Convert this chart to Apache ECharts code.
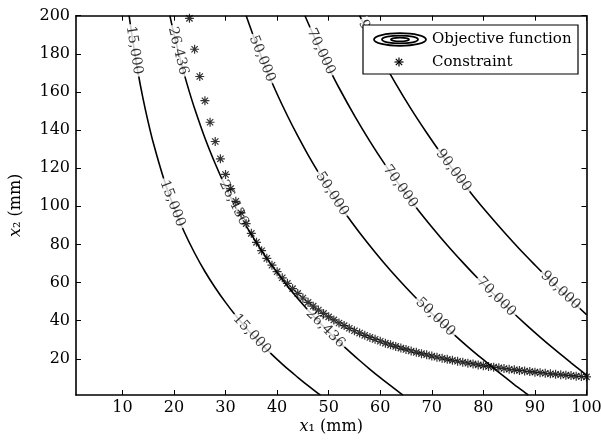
<!DOCTYPE html>
<html>
<head>
<meta charset="utf-8">
<script src="https://cdn.jsdelivr.net/npm/echarts@6/dist/echarts.min.js"></script>
<style>
    html, body { margin: 0; padding: 0; background: #fff; }
    #chart { width: 601px; height: 445px; }
</style>
</head>
<body>
<div id="chart"></div>
<script>
const xTicks = [10, 20, 30, 40, 50, 60, 70, 80, 90, 100];
const yTicks = [20, 40, 60, 80, 100, 120, 140, 160, 180, 200];

// contour lines of the objective function, [x1, x2]
const contour15000 = [[11.3, 200], [12, 186.9], [13, 170.6], [14, 156.5], [15, 144.2], [16, 133.2],
    [18, 114.6], [20, 99.4], [22, 86.5], [24, 75.5], [26, 65.8], [28, 57.3], [30, 49.6], [32, 42.6],
    [34, 36.2], [36, 30.3], [38, 24.8], [40, 19.7], [42, 14.8], [44, 10.3], [46, 5.9], [48, 1.7], [48.4, 1]];
const contour26436 = [[19.2, 200], [20, 190.4], [21, 179.4], [22, 169.2], [23, 159.9], [24, 151.3],
    [26, 135.8], [28, 122.3], [30, 110.2], [32, 99.5], [34, 89.7], [36, 80.9], [38, 72.7], [40, 65.2],
    [42, 58.2], [44, 51.6], [46, 45.5], [48, 39.7], [50, 34.1], [52, 28.9], [54, 23.9], [56, 19.1],
    [58, 14.5], [60, 10.1], [62, 5.9], [64, 1.7], [64.4, 1]];
const contour50000 = [[34.0, 200], [36, 185.0], [38, 171.4], [40, 158.9], [42, 147.5], [44, 136.9],
    [46, 127.0], [48, 117.8], [50, 109.2], [53, 97.1], [56, 86.1], [59, 75.9], [62, 66.3], [65, 57.4],
    [68, 49.0], [71, 41.1], [74, 33.5], [77, 26.3], [80, 19.5], [83, 12.9], [86, 6.5], [88, 2.4], [88.7, 1]];
const contour70000 = [[45.4, 200], [48, 184.1], [50, 172.8], [52, 162.2], [55, 147.6], [58, 134.1],
    [61, 121.6], [64, 110.1], [67, 99.3], [70, 89.2], [73, 79.6], [76, 70.6], [79, 62.0], [82, 53.9],
    [85, 46.1], [88, 38.6], [91, 31.4], [94, 24.5], [97, 17.9], [100, 11.4]];
const contour90000 = [[56.0, 200], [58, 189.0], [60, 178.7], [63, 164.4], [66, 151.0], [69, 138.6],
    [72, 126.9], [75, 116.0], [78, 105.6], [81, 95.8], [84, 86.5], [87, 77.6], [90, 69.2], [93, 61.0],
    [96, 53.2], [100, 43.2]];
const contours = [contour15000, contour26436, contour50000, contour70000, contour90000];

// constraint points (asterisks)
const constraintX1 = [23, 24, 25, 26, 27, 28, 29, 30, 31, 32, 33, 34, 35, 36, 37, 38, 39, 40, 41, 42,
    43, 44, 45, 46, 47, 48, 49, 50, 51, 52, 53, 54, 55, 56, 57, 58, 59, 60, 61, 62, 63, 64, 65, 66, 67,
    68, 69, 70, 71, 72, 73, 74, 75, 76, 77, 78, 79, 80, 81, 82, 83, 84, 85, 86, 87, 88, 89, 90, 91, 92,
    93, 94, 95, 96, 97, 98, 99, 100];
const constraintX2 = [198.6, 182.4, 168.1, 155.4, 144.1, 134.0, 124.9, 116.7, 109.3, 102.6, 96.5, 90.9,
    85.8, 81.1, 76.7, 72.7, 69.1, 65.7, 62.5, 59.6, 56.8, 54.3, 51.9, 49.6, 47.6, 45.6, 43.8, 42.0, 40.4,
    38.8, 37.4, 36.0, 34.7, 33.5, 32.3, 31.2, 30.2, 29.2, 28.2, 27.3, 26.5, 25.6, 24.9, 24.1, 23.4, 22.7,
    22.1, 21.4, 20.8, 20.3, 19.7, 19.2, 18.7, 18.2, 17.7, 17.3, 16.8, 16.4, 16.0, 15.6, 15.3, 14.9, 14.5,
    14.2, 13.9, 13.6, 13.3, 13.0, 12.7, 12.4, 12.1, 11.9, 11.6, 11.4, 11.2, 10.9, 10.7, 10.5];

// contour labels: x1, x2, text, angle
const contourLabels = [
    [12.3, 181.8, "15,000", -81], [19.7, 101.5, "15,000", -69], [35.1, 32.9, "15,000", -47],
    [20.8, 181.5, "26,436", -76], [31.55, 101.8, "26,436", -63], [49.35, 35.9, "26,436", -45],
    [37.1, 177.4, "50,000", -68], [50.65, 106.5, "50,000", -57], [70.7, 41.9, "50,000", -44],
    [48.5, 181.2, "70,000", -65], [63.9, 110.4, "70,000", -54], [82.5, 52.5, "70,000", -45],
    [58.6, 185.8, "90,000", -63], [74.2, 118.8, "90,000", -53], [94.95, 55.9, "90,000", -44],
];

const FONT = "DejaVu Serif";
const asteriskPath = "path://M5,0L5,10M0,5L10,5M1.5,1.5L8.5,8.5M8.5,1.5L1.5,8.5";

function boxAxis(min, max, ticks, pos, withLabels) {
    return {
        type: "value",
        position: pos,
        min,
        max,
        axisLine: { show: true, onZero: false, lineStyle: { color: "#000", width: 1.6 } },
        axisTick: { show: true, inside: true, length: 5, customValues: ticks, lineStyle: { color: "#000", width: 1 } },
        axisLabel: {
            show: withLabels,
            customValues: ticks,
            color: "#000",
            fontFamily: FONT,
            fontSize: 16,
            margin: pos === "left" ? 6 : 5,
        },
        splitLine: { show: false },
    };
}

let chartDom = document.getElementById("chart");
let myChart = echarts.init(chartDom);

let series = [];
for (let i = 0; i < contours.length; i++) {
    series.push({
        type: "line",
        name: "Objective function",
        data: contours[i],
        showSymbol: false,
        smooth: 0.3,
        clip: true,
        silent: true,
        z: 2,
        lineStyle: { color: "#000", width: 1.6 },
    });
}

series.push({
    type: "scatter",
    name: "labels",
    symbolSize: 0,
    silent: true,
    z: 3,
    data: contourLabels.map((l) => ({
        value: [l[0], l[1]],
        label: { formatter: l[2], rotate: l[3] },
    })),
    label: {
        show: true,
        position: "inside",
        color: "#000",
        fontFamily: FONT,
        fontSize: 14,
        backgroundColor: "#fff",
        padding: [0, 2],
    },
});

series.push({
    type: "scatter",
    name: "Constraint",
    symbol: asteriskPath,
    symbolSize: 9,
    z: 4,
    silent: true,
    data: constraintX1.map((x, i) => [x, constraintX2[i]]),
    itemStyle: { color: "rgba(0,0,0,0)", borderColor: "#000", borderWidth: 1.2 },
});

// legend box drawn by hand (ellipse icon is not a stock legend icon)
const LZ = 1000;
const legendItems = [
    { type: "rect", z: LZ, shape: { x: 363, y: 25, width: 215, height: 49 },
      style: { fill: "#fff", stroke: "#000", lineWidth: 1.2 } },
    { type: "ellipse", z: LZ, shape: { cx: 400, cy: 39.5, rx: 26, ry: 6.3 },
      style: { fill: "none", stroke: "#000", lineWidth: 1.8 } },
    { type: "ellipse", z: LZ, shape: { cx: 400, cy: 39.5, rx: 18, ry: 3.9 },
      style: { fill: "none", stroke: "#000", lineWidth: 1.8 } },
    { type: "ellipse", z: LZ, shape: { cx: 400, cy: 39.5, rx: 9, ry: 1.8 },
      style: { fill: "none", stroke: "#000", lineWidth: 1.8 } },
    { type: "text", z: LZ, x: 432, y: 39.5,
      style: { text: "Objective function", fill: "#000", font: "15px " + FONT, verticalAlign: "middle" } },
    { type: "line", z: LZ, shape: { x1: 399, y1: 57.5, x2: 399, y2: 66.5 }, style: { stroke: "#000", lineWidth: 1.2 } },
    { type: "line", z: LZ, shape: { x1: 394.5, y1: 62, x2: 403.5, y2: 62 }, style: { stroke: "#000", lineWidth: 1.2 } },
    { type: "line", z: LZ, shape: { x1: 395.8, y1: 58.8, x2: 402.2, y2: 65.2 }, style: { stroke: "#000", lineWidth: 1.2 } },
    { type: "line", z: LZ, shape: { x1: 402.2, y1: 58.8, x2: 395.8, y2: 65.2 }, style: { stroke: "#000", lineWidth: 1.2 } },
    { type: "text", z: LZ, x: 432, y: 62,
      style: { text: "Constraint", fill: "#000", font: "15px " + FONT, verticalAlign: "middle" } },
];

let option = {
    animation: false,
    backgroundColor: "#fff",
    grid: { left: 76, right: 14.5, top: 15.7, bottom: 50, containLabel: false, outerBoundsMode: "none" },
    xAxis: [
        {
            ...boxAxis(1, 100, xTicks, "bottom", true),
            name: "{i|x}₁ (mm)",
            nameLocation: "middle",
            nameGap: 24,
            nameMoveOverlap: false,
            nameTextStyle: {
                color: "#000", fontFamily: FONT, fontSize: 16,
                rich: { i: { fontStyle: "italic", fontFamily: FONT, fontSize: 16, color: "#000" } },
            },
        },
        boxAxis(1, 100, xTicks, "top", false),
    ],
    yAxis: [
        {
            ...boxAxis(1, 200, yTicks, "left", true),
            name: "{i|x}₂ (mm)",
            nameLocation: "middle",
            nameGap: 52,
            nameMoveOverlap: false,
            nameTextStyle: {
                color: "#000", fontFamily: FONT, fontSize: 16,
                rich: { i: { fontStyle: "italic", fontFamily: FONT, fontSize: 16, color: "#000" } },
            },
        },
        boxAxis(1, 200, yTicks, "right", false),
    ],
    graphic: { elements: legendItems },
    series,
};

option && myChart.setOption(option);
</script>
</body>
</html>
